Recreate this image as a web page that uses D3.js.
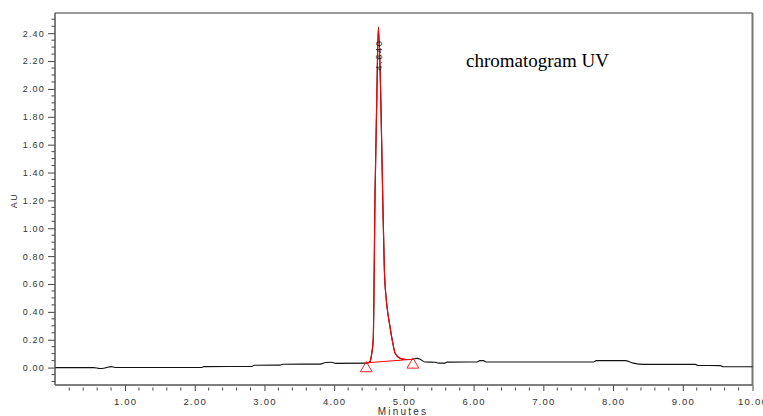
<!DOCTYPE html>
<html>

<head>
    <meta charset="UTF-8">
    <script src="https://d3js.org/d3.v7.min.js"></script>
    <style>
        body { margin: 0; background: #fff; }
        text { font-family: Arial, "Liberation Sans", sans-serif; }
    </style>
</head>

<body>

</body>
<script>
    // trace: time (min) and absorbance (AU)
    var traceTime = [0.00, 0.55, 0.64, 0.72, 0.80, 0.86, 2.10, 2.13, 2.82, 2.85, 3.22, 3.26, 3.80, 3.88, 3.96, 4.02,
        4.46, 4.51, 4.54, 4.56, 4.587, 4.611, 4.634, 4.669, 4.697, 4.720, 4.745, 4.770, 4.792, 4.841, 4.874, 4.946, 5.00, 5.09, 5.13,
        5.19, 5.24, 5.30, 5.45, 5.50, 5.58, 5.62, 6.05, 6.09, 6.14, 6.18, 7.72, 7.76, 8.17, 8.29, 8.44, 9.18, 9.22, 9.54, 9.58, 10.00];
    var traceAU = [0.000, 0.000, -0.007, -0.002, 0.007, 0.001, 0.001, 0.007, 0.008, 0.017, 0.018, 0.024, 0.025, 0.037, 0.038, 0.030,
        0.032, 0.040, 0.106, 0.200, 1.276, 1.922, 2.444, 1.922, 1.204, 0.700, 0.500, 0.390, 0.319, 0.175, 0.103, 0.067, 0.060, 0.058, 0.060,
        0.066, 0.058, 0.040, 0.038, 0.032, 0.032, 0.039, 0.040, 0.050, 0.050, 0.040, 0.040, 0.050, 0.050, 0.032, 0.023, 0.023, 0.015, 0.014, 0.006, 0.006];

    // integrated peak: start / end marks and apex label
    var peakStart = [4.46, 0.034];
    var peakEnd = [5.13, 0.060];
    var peakApex = [4.640, 2.444];
    var peakLabel = "4.640";

    var xTicks = [1, 2, 3, 4, 5, 6, 7, 8, 9, 10];
    var yTicks = [0, 0.2, 0.4, 0.6, 0.8, 1.0, 1.2, 1.4, 1.6, 1.8, 2.0, 2.2, 2.4];
    var xDomain = [0, 10];
    var yDomain = [-0.125, 2.545];

    var margin = { top: 13, right: 10, bottom: 31, left: 55 },
        W = 763, H = 416,
        width = W - margin.left - margin.right - 0.5,
        height = H - margin.top - margin.bottom;

    var svg = d3.select("body")
        .append("svg")
        .attr("width", W)
        .attr("height", H)
        .append("g")
        .attr("transform", "translate(" + margin.left + "," + margin.top + ")");

    var x = d3.scaleLinear().domain(xDomain).range([0.3, width]);
    var y = d3.scaleLinear().domain(yDomain).range([height, 0]);

    var pts = traceTime.map(function (t, i) { return [t, traceAU[i]]; });
    var peakPts = pts.filter(function (p) { return p[0] >= peakStart[0] && p[0] <= peakEnd[0]; });

    var line = d3.line()
        .x(function (d) { return x(d[0]); })
        .y(function (d) { return y(d[1]); })
        .curve(d3.curveMonotoneX);

    // frame: top and right grey
    svg.append("line").attr("x1", 0).attr("x2", width).attr("y1", 0).attr("y2", 0)
        .attr("stroke", "#777").attr("stroke-width", 1.5);
    svg.append("line").attr("x1", width).attr("x2", width).attr("y1", 0).attr("y2", height)
        .attr("stroke", "#777").attr("stroke-width", 2);

    // y axis with minor ticks every 0.05
    var yAxis = d3.axisLeft(y).tickValues(yTicks).tickSize(7).tickPadding(3)
        .tickFormat(d3.format(".2f"));
    var gy = svg.append("g").call(yAxis);
    gy.select(".domain").remove();
    gy.selectAll(".tick line").attr("stroke", "#444");
    gy.selectAll(".tick text").attr("fill", "#333").style("font-size", "9px").style("letter-spacing", "1.2px");
    var yMinor = d3.range(-0.10, 2.55, 0.05).filter(function (v) {
        return Math.abs(v * 5 - Math.round(v * 5)) > 0.01;
    });
    gy.selectAll(".minor").data(yMinor).enter().append("line")
        .attr("x1", -3.5).attr("x2", 0)
        .attr("y1", function (d) { return y(d); }).attr("y2", function (d) { return y(d); })
        .attr("stroke", "#444");
    svg.append("line").attr("x1", 0).attr("x2", 0).attr("y1", 0).attr("y2", height)
        .attr("stroke", "#555").attr("stroke-width", 1.5);

    // x axis with minor ticks every 0.2 min
    var xAxis = d3.axisBottom(x).tickValues(xTicks).tickSize(6).tickPadding(7)
        .tickFormat(d3.format(".2f"));
    var gx = svg.append("g").attr("transform", "translate(0," + height + ")").call(xAxis);
    gx.select(".domain").remove();
    gx.selectAll(".tick line").attr("stroke", "#444");
    gx.selectAll(".tick text").attr("fill", "#333").style("font-size", "9.5px").style("letter-spacing", "1.2px");
    var xMinor = d3.range(0.2, 10, 0.2).filter(function (v) {
        return Math.abs(v - Math.round(v)) > 0.01;
    });
    gx.selectAll(".minor").data(xMinor).enter().append("line")
        .attr("x1", function (d) { return x(d); }).attr("x2", function (d) { return x(d); })
        .attr("y1", 2.5).attr("y2", 5.5)
        .attr("stroke", "#444");
    svg.append("line").attr("x1", 0).attr("x2", width).attr("y1", height).attr("y2", height)
        .attr("stroke", "#555").attr("stroke-width", 1.5);

    // axis titles
    svg.append("text")
        .attr("x", x(5) - 1).attr("y", height + 30)
        .attr("text-anchor", "middle")
        .style("font-size", "10px").style("letter-spacing", "2.2px")
        .attr("fill", "#333")
        .text("Minutes");
    svg.append("text")
        .attr("transform", "translate(" + (17 - margin.left) + "," + y(1.2) + ") rotate(-90)")
        .attr("text-anchor", "middle")
        .style("font-size", "9px").style("letter-spacing", "1.5px")
        .attr("fill", "#333")
        .text("AU");

    // trace
    svg.append("path")
        .datum(pts)
        .attr("d", line)
        .attr("fill", "none")
        .attr("stroke", "#111")
        .attr("stroke-width", 1.1);

    // integrated peak in red
    svg.append("path")
        .datum(peakPts)
        .attr("d", line)
        .attr("fill", "none")
        .attr("stroke", "#ff0000")
        .attr("stroke-width", 1.2);
    svg.append("line")
        .attr("x1", x(peakStart[0])).attr("y1", y(peakStart[1]))
        .attr("x2", x(peakEnd[0])).attr("y2", y(peakEnd[1]))
        .attr("stroke", "#ff0000").attr("stroke-width", 1);

    // triangle markers below start / end
    var tri = d3.symbol().type(d3.symbolTriangle).size(60);
    svg.selectAll(".tri").data([peakStart, peakEnd]).enter().append("path")
        .attr("d", tri)
        .attr("transform", function (d) { return "translate(" + x(d[0]) + "," + (y(d[1]) + 5.5) + ")"; })
        .attr("fill", "none")
        .attr("stroke", "#ff2020")
        .attr("stroke-width", 1);

    // retention time label on the apex
    svg.append("text")
        .attr("transform", "translate(" + (x(peakApex[0]) + 3) + "," + (y(peakApex[1]) + 28) + ") rotate(-90)")
        .attr("text-anchor", "middle")
        .style("font-size", "9.5px").style("letter-spacing", "1.5px")
        .attr("fill", "#222")
        .text(peakLabel);

    // title
    svg.append("text")
        .attr("x", 466 - margin.left).attr("y", 67 - margin.top)
        .style("font-family", "'Liberation Serif', 'Times New Roman', serif")
        .style("font-size", "19px")
        .attr("fill", "#000")
        .text("chromatogram UV");
</script>

</html>
